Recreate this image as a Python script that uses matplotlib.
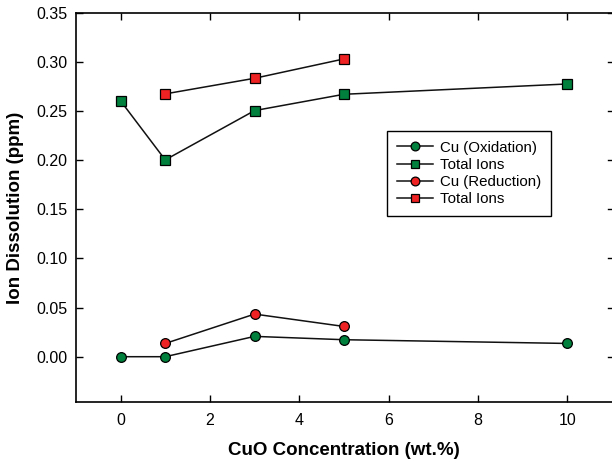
import matplotlib.pyplot as plt

plt.rcParams['font.family'] = ['Liberation Sans', 'DejaVu Sans']

# CuO concentration (wt.%)
x_ox = [0, 1, 3, 5, 10]
x_red = [1, 3, 5]

# ion dissolution (ppm)
cu_ox = [0.0, 0.0, 0.0207, 0.0173, 0.0135]
total_ox = [0.2605, 0.2004, 0.2506, 0.2672, 0.2777]
cu_red = [0.0135, 0.0434, 0.0308]
total_red = [0.2676, 0.2835, 0.3032]

green = '#00803C'
red = '#EE2222'

fig = plt.figure(figsize=(6.12, 4.63), dpi=100)
ax = fig.add_axes([0.124, 0.132, 0.876, 0.840])

kw = dict(color='#111111', lw=1.1, markeredgecolor='black', markeredgewidth=0.9)
ax.plot(x_ox, cu_ox, marker='o', markersize=7, markerfacecolor=green, label='Cu (Oxidation)', **kw)
ax.plot(x_ox, total_ox, marker='s', markersize=6.5, markerfacecolor=green, label='Total Ions', **kw)
ax.plot(x_red, cu_red, marker='o', markersize=7, markerfacecolor=red, label='Cu (Reduction)', **kw)
ax.plot(x_red, total_red, marker='s', markersize=6.5, markerfacecolor=red, label='Total Ions', **kw)

ax.set_xlim(-1, 11)
ax.set_ylim(-0.046, 0.35)
ax.set_xticks([0, 2, 4, 6, 8, 10])
ax.set_yticks([0.0, 0.05, 0.10, 0.15, 0.20, 0.25, 0.30, 0.35])
ax.set_yticklabels([f'{v:.2f}' for v in ax.get_yticks()])

ax.tick_params(axis='x', direction='in', top=True, length=5, width=1, labelsize=11.5, pad=8)
ax.tick_params(axis='y', direction='in', length=5, width=1, labelsize=11.5, pad=6)
ax.tick_params(axis='y', which='both', right=False)
# short inward ticks along the right edge (no spine drawn there)
for v in ax.get_yticks():
    ax.plot([10.9, 11], [v, v], color='black', lw=1, clip_on=False)
for s in ax.spines.values():
    s.set_linewidth(1.2)
ax.spines['right'].set_visible(False)

ax.set_xlabel('CuO Concentration (wt.%)', fontsize=13.5, fontweight='bold', labelpad=10)
ax.set_ylabel('Ion Dissolution (ppm)', fontsize=13.5, fontweight='bold', labelpad=9)

leg = ax.legend(loc='upper left', bbox_to_anchor=(0.58, 0.697), borderaxespad=0,
                fontsize=10.8, handlelength=2.4, fancybox=False, framealpha=1,
                edgecolor='black', handletextpad=0.5, labelspacing=0.22,
                borderpad=0.65, markerscale=0.9)
leg.get_frame().set_linewidth(1.0)

fig.savefig('out.png', dpi=100)
